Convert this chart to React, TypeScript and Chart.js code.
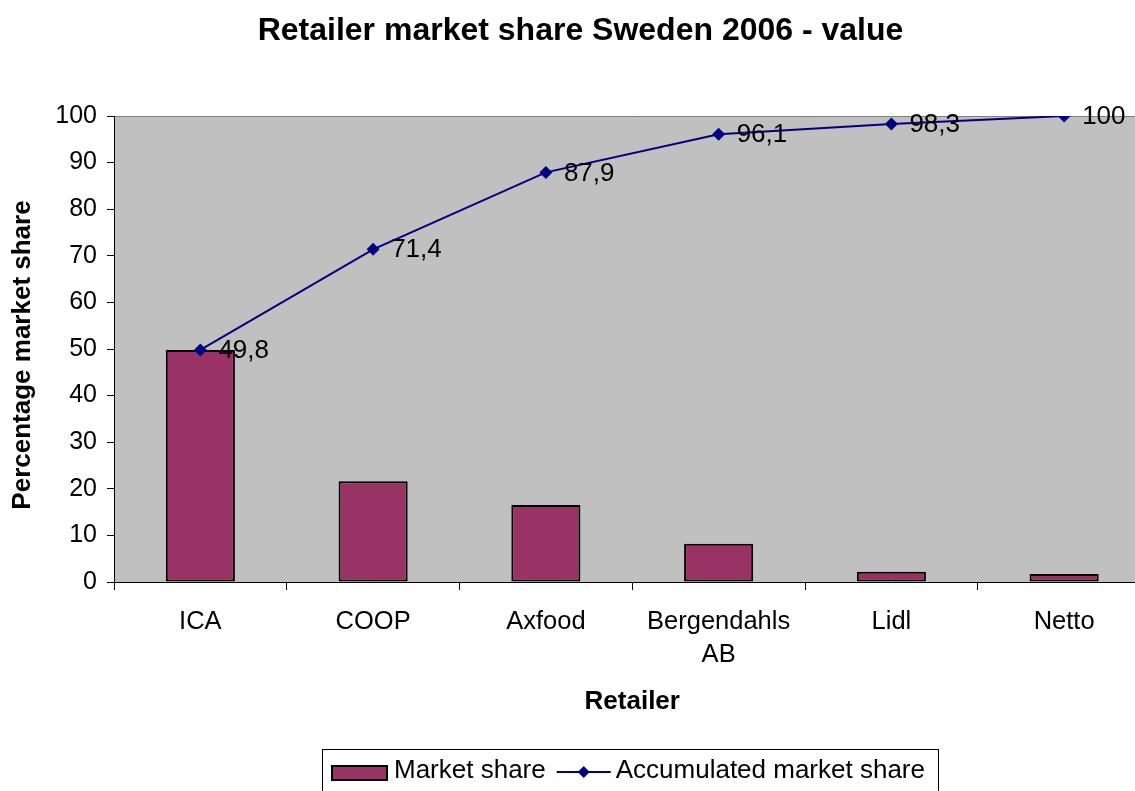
import React, { useEffect, useRef } from "react";
import { Chart, registerables } from "chart.js";

Chart.register(...registerables);

const FONT = "'Liberation Sans', Arial, Helvetica, sans-serif";

const categories: (string | string[])[] = ["ICA", "COOP", "Axfood", ["Bergendahls", "AB"], "Lidl", "Netto"];
const marketShare: number[] = [49.8, 21.6, 16.5, 8.2, 2.2, 1.7];
const accumulatedShare: number[] = [49.8, 71.4, 87.9, 96.1, 98.3, 100];
const seriesNames: string[] = ["Market share", "Accumulated market share"];
const chartTitle = "Retailer market share Sweden 2006 - value";
const xTitle = "Retailer";
const yTitle = "Percentage market share";
const yMin = 0;
const yMax = 100;
const yStep = 10;

const BAR_COLOR = "#993366";
const LINE_COLOR = "#000080";
const PLOT_BG = "#C0C0C0";

const plotBackground = {
  id: "plotBackground",
  beforeDraw(chart: any) {
    const { ctx, chartArea: a } = chart;
    ctx.save();
    ctx.fillStyle = PLOT_BG;
    ctx.fillRect(a.left, a.top, a.right - a.left, a.bottom - a.top);
    ctx.strokeStyle = "#808080";
    ctx.lineWidth = 1;
    ctx.beginPath();
    ctx.moveTo(a.left, Math.round(a.top) + 0.5);
    ctx.lineTo(a.right, Math.round(a.top) + 0.5);
    ctx.stroke();
    ctx.restore();
  },
};

const yAxisTitle = {
  id: "yAxisTitle",
  afterDraw(chart: any) {
    const { ctx, chartArea: a } = chart;
    ctx.save();
    ctx.translate(23, (a.top + a.bottom) / 2 + 6);
    ctx.rotate(-Math.PI / 2);
    ctx.font = `bold 26px ${FONT}`;
    ctx.fillStyle = "#000";
    ctx.textAlign = "center";
    ctx.textBaseline = "middle";
    ctx.fillText(yTitle, 0, 0);
    ctx.restore();
  },
};

const valueLabels = {
  id: "valueLabels",
  afterDatasetsDraw(chart: any) {
    const { ctx } = chart;
    const meta = chart.getDatasetMeta(1);
    const data = chart.data.datasets[1].data as number[];
    ctx.save();
    ctx.font = `26px ${FONT}`;
    ctx.fillStyle = "#000";
    ctx.textAlign = "left";
    ctx.textBaseline = "middle";
    meta.data.forEach((pt: any, i: number) => {
      ctx.fillText(String(data[i]).replace(".", ","), pt.x + 18, pt.y + 1);
    });
    ctx.restore();
  },
};

const boxLegend = {
  id: "boxLegend",
  afterDraw(chart: any) {
    const { ctx } = chart;
    ctx.save();
    ctx.strokeStyle = "#000";
    ctx.lineWidth = 1;
    ctx.strokeRect(322.5, 749.5, 616, 60);
    // bar swatch
    ctx.fillStyle = BAR_COLOR;
    ctx.fillRect(332, 766, 55, 14);
    ctx.lineWidth = 2;
    ctx.strokeRect(332, 766, 55, 14);
    ctx.font = `26px ${FONT}`;
    ctx.fillStyle = "#000";
    ctx.textAlign = "left";
    ctx.textBaseline = "middle";
    let x = 394;
    ctx.fillText(seriesNames[0], x, 771);
    x += ctx.measureText(seriesNames[0]).width + 11;
    // line swatch
    const ly = 772;
    ctx.strokeStyle = LINE_COLOR;
    ctx.lineWidth = 2;
    ctx.beginPath();
    ctx.moveTo(x, ly);
    ctx.lineTo(x + 54, ly);
    ctx.stroke();
    const cx = x + 27;
    ctx.fillStyle = LINE_COLOR;
    ctx.beginPath();
    ctx.moveTo(cx, ly - 6);
    ctx.lineTo(cx + 6, ly);
    ctx.lineTo(cx, ly + 6);
    ctx.lineTo(cx - 6, ly);
    ctx.closePath();
    ctx.fill();
    ctx.fillStyle = "#000";
    ctx.fillText(seriesNames[1], x + 59, 771);
    ctx.restore();
  },
};

export default function App() {
  const ref = useRef<HTMLCanvasElement>(null);

  useEffect(() => {
    if (!ref.current) return;
    const chart = new Chart(ref.current, {
      type: "bar",
      data: {
        labels: categories,
        datasets: [
          {
            type: "bar",
            label: seriesNames[0],
            data: marketShare,
            backgroundColor: BAR_COLOR,
            borderColor: "#000",
            borderWidth: 2,
            borderSkipped: false,
            barPercentage: 0.4,
            categoryPercentage: 1,
            order: 2,
          } as any,
          {
            type: "line",
            label: seriesNames[1],
            data: accumulatedShare,
            borderColor: LINE_COLOR,
            backgroundColor: LINE_COLOR,
            borderWidth: 2,
            pointStyle: "rectRot",
            pointRadius: 6.5,
            pointBorderWidth: 0,
            pointBackgroundColor: LINE_COLOR,
            tension: 0,
            fill: false,
            order: 1,
          } as any,
        ],
      },
      options: {
        responsive: false,
        animation: false,
        devicePixelRatio: 1,
        events: [],
        layout: { padding: { left: 4, right: 0, top: 0, bottom: 72 } },
        plugins: {
          legend: { display: false },
          tooltip: { enabled: false },
          title: {
            display: true,
            text: chartTitle,
            color: "#000",
            font: { family: FONT, size: 32, weight: "bold", lineHeight: 1.2 },
            padding: { top: 12, bottom: 65.6 },
          },
        },
        scales: {
          x: {
            type: "category",
            offset: true,
            grid: {
              offset: true,
              drawOnChartArea: false,
              drawTicks: true,
              tickLength: 8,
              color: "#000",
            },
            border: { display: true, color: "#000", width: 1 },
            ticks: {
              color: "#000",
              font: { family: FONT, size: 25.5, lineHeight: 1.3 },
              padding: 15,
              maxRotation: 0,
              autoSkip: false,
            },
            title: {
              display: true,
              text: xTitle,
              color: "#000",
              font: { family: FONT, size: 26, weight: "bold", lineHeight: 1.2 },
              padding: { top: 4, bottom: 2 },
            },
            afterFit(scale: any) {
              scale.height = 137;
            },
          },
          y: {
            type: "linear",
            min: yMin,
            max: yMax,
            ticks: {
              stepSize: yStep,
              color: "#000",
              font: { family: FONT, size: 25 },
              padding: 10,
            },
            grid: { drawOnChartArea: false, drawTicks: true, tickLength: 7, color: "#000" },
            border: { display: true, color: "#000", width: 1 },
            title: { display: false },
            afterFit(scale: any) {
              scale.width = 110;
            },
          },
        },
      } as any,
      plugins: [plotBackground, valueLabels, boxLegend, yAxisTitle],
    });
    return () => chart.destroy();
  }, []);

  return (
    <div
      style={{
        position: "fixed",
        left: 0,
        top: 0,
        width: 1135,
        height: 791,
        overflow: "hidden",
        background: "#fff",
      }}
    >
      <canvas ref={ref} width={1157} height={791} style={{ display: "block", width: 1157, height: 791 }} />
    </div>
  );
}
